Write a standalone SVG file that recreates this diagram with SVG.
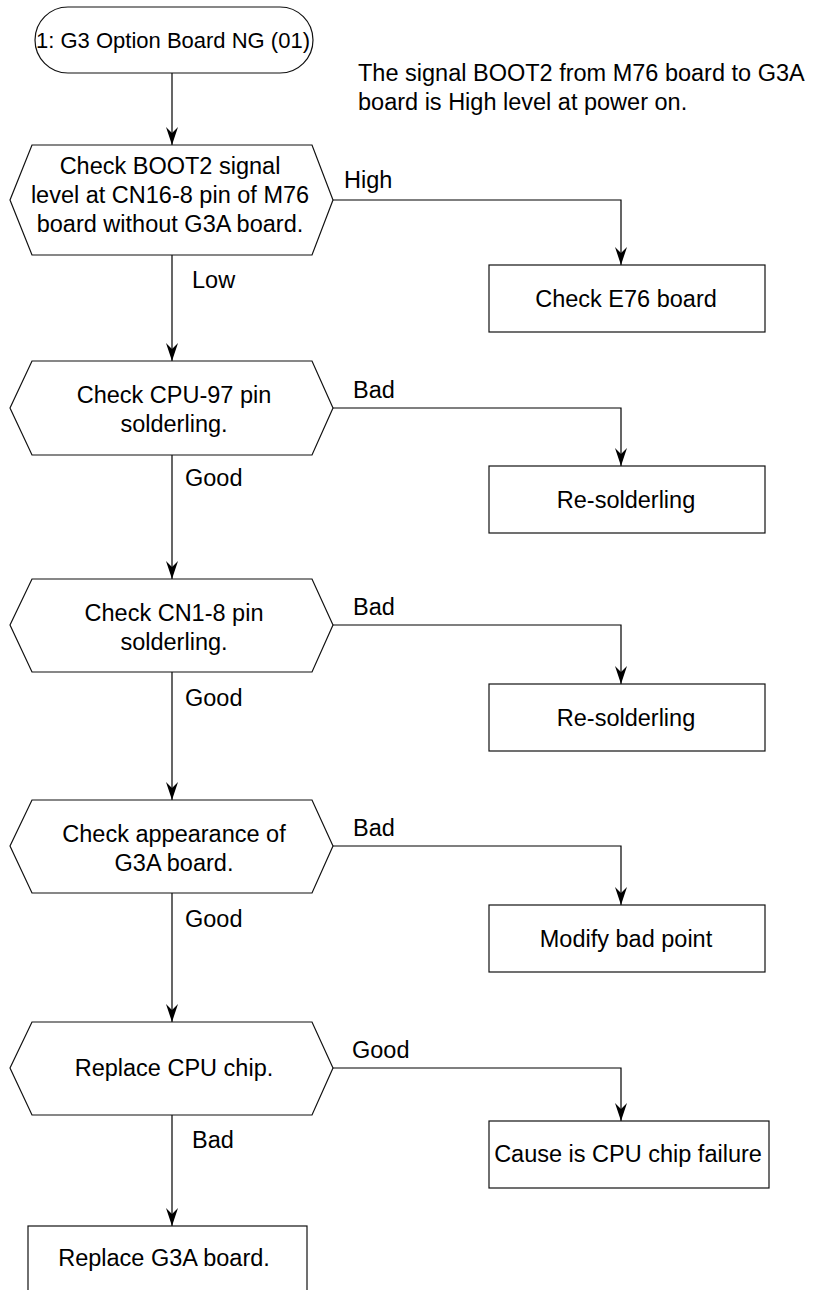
<svg xmlns="http://www.w3.org/2000/svg" width="816" height="1290" viewBox="0 0 816 1290">
  <style>
    .shape { fill: #ffffff; stroke: #111111; stroke-width: 1.2; }
    .wire { fill: none; stroke: #000000; stroke-width: 1.2; }
    text { font-family: "Liberation Sans", Arial, Helvetica, sans-serif; font-size: 23.5px; fill: #000000; }
    .c { text-anchor: middle; }
    .title { font-size: 22px; }
  </style>
  <defs>
    <!-- notched arrowhead, tip at the end of the line -->
    <marker id="arrow" viewBox="0 0 18 12" refX="18" refY="6" markerWidth="18" markerHeight="12" markerUnits="userSpaceOnUse" orient="auto">
      <path d="M0,0 L18,6 L0,12 L6,6 Z" fill="#000000"/>
    </marker>
  </defs>

  <rect width="816" height="1290" fill="#ffffff"/>

  <!-- connectors and their labels -->
  <g id="connectors">
    <path class="wire" d="M172,73 V145" marker-end="url(#arrow)"/>
    <path class="wire" d="M172,255 V361" marker-end="url(#arrow)"/>
    <path class="wire" d="M172,455 V579" marker-end="url(#arrow)"/>
    <path class="wire" d="M172,672 V800" marker-end="url(#arrow)"/>
    <path class="wire" d="M172,893 V1022" marker-end="url(#arrow)"/>
    <path class="wire" d="M172,1115 V1226" marker-end="url(#arrow)"/>
    <path class="wire" d="M333,200 H621 V265" marker-end="url(#arrow)"/>
    <path class="wire" d="M333,408 H621 V466" marker-end="url(#arrow)"/>
    <path class="wire" d="M333,625 H621 V684" marker-end="url(#arrow)"/>
    <path class="wire" d="M333,846 H621 V905" marker-end="url(#arrow)"/>
    <path class="wire" d="M333,1068 H621 V1121" marker-end="url(#arrow)"/>
    <text x="344" y="188">High</text>
    <text x="192" y="288">Low</text>
    <text x="353" y="398">Bad</text>
    <text x="185" y="486">Good</text>
    <text x="353" y="615">Bad</text>
    <text x="185" y="706">Good</text>
    <text x="353" y="836">Bad</text>
    <text x="185" y="927">Good</text>
    <text x="352" y="1058">Good</text>
    <text x="192" y="1148">Bad</text>
  </g>

  <g id="start">
    <rect class="shape" x="35" y="7" width="278" height="66" rx="33" ry="33"/>
    <text class="c title" x="173" y="48">1: G3 Option Board NG (01)</text>
  </g>

  <g id="note">
    <text x="358" y="81">The signal BOOT2 from M76 board to G3A</text>
    <text x="358" y="110">board is High level at power on.</text>
  </g>

  <g id="check-boot2">
    <polygon class="shape" points="10,200 32,145 312,145 333,200 312,255 32,255"/>
    <text class="c" x="170" y="174">Check BOOT2 signal</text>
    <text class="c" x="170" y="203">level at CN16-8 pin of M76</text>
    <text class="c" x="170" y="232">board without G3A board.</text>
  </g>

  <g id="check-e76">
    <rect class="shape" x="489" y="265" width="276" height="67"/>
    <text class="c" x="626" y="307">Check E76 board</text>
  </g>

  <g id="check-cpu97">
    <polygon class="shape" points="10,408 32,361 312,361 333,408 312,455 32,455"/>
    <text class="c" x="174" y="403">Check CPU-97 pin</text>
    <text class="c" x="174" y="432">solderling.</text>
  </g>

  <g id="resolder-1">
    <rect class="shape" x="489" y="466" width="276" height="67"/>
    <text class="c" x="626" y="508">Re-solderling</text>
  </g>

  <g id="check-cn1">
    <polygon class="shape" points="10,625 32,579 312,579 333,625 312,672 32,672"/>
    <text class="c" x="174" y="621">Check CN1-8 pin</text>
    <text class="c" x="174" y="650">solderling.</text>
  </g>

  <g id="resolder-2">
    <rect class="shape" x="489" y="684" width="276" height="67"/>
    <text class="c" x="626" y="726">Re-solderling</text>
  </g>

  <g id="check-g3a">
    <polygon class="shape" points="10,846 32,800 312,800 333,846 312,893 32,893"/>
    <text class="c" x="174" y="842">Check appearance of</text>
    <text class="c" x="174" y="871">G3A board.</text>
  </g>

  <g id="modify">
    <rect class="shape" x="489" y="905" width="276" height="67"/>
    <text class="c" x="626" y="947">Modify bad point</text>
  </g>

  <g id="replace-cpu">
    <polygon class="shape" points="10,1068 32,1022 312,1022 333,1068 312,1115 32,1115"/>
    <text class="c" x="174" y="1076">Replace CPU chip.</text>
  </g>

  <g id="cpu-failure">
    <rect class="shape" x="489" y="1121" width="280" height="67"/>
    <text class="c" x="628" y="1162">Cause is CPU chip failure</text>
  </g>

  <g id="replace-g3a">
    <rect class="shape" x="28" y="1226" width="279" height="80"/>
    <text class="c" x="164" y="1266">Replace G3A board.</text>
  </g>
</svg>
